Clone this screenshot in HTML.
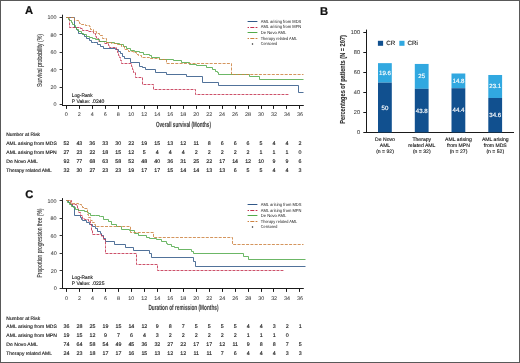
<!DOCTYPE html>
<html><head><meta charset="utf-8"><title>Figure</title><style>html,body{margin:0;padding:0;background:#fff;width:520px;height:363px;overflow:hidden;font-family:"Liberation Sans",sans-serif}</style></head><body>
<svg width="520" height="363" viewBox="0 0 520 363" style="display:block;will-change:transform" font-family="&quot;Liberation Sans&quot;, sans-serif">
<rect x="0" y="0" width="520" height="363" fill="#ffffff"/>
<line x1="62.5" y1="14.7" x2="62.5" y2="106.0" stroke="#1a1a1a" stroke-width="1"/>
<line x1="62" y1="105.5" x2="303.8" y2="105.5" stroke="#1a1a1a" stroke-width="1"/>
<line x1="59.6" y1="17.5" x2="62.5" y2="17.5" stroke="#333" stroke-width="1"/>
<line x1="59.6" y1="34.5" x2="62.5" y2="34.5" stroke="#333" stroke-width="1"/>
<line x1="59.6" y1="52.5" x2="62.5" y2="52.5" stroke="#333" stroke-width="1"/>
<line x1="59.6" y1="69.5" x2="62.5" y2="69.5" stroke="#333" stroke-width="1"/>
<line x1="59.6" y1="87.5" x2="62.5" y2="87.5" stroke="#333" stroke-width="1"/>
<line x1="59.6" y1="104.5" x2="62.5" y2="104.5" stroke="#333" stroke-width="1"/>
<line x1="66.5" y1="105.5" x2="66.5" y2="108.90" stroke="#1a1a1a" stroke-width="1"/>
<line x1="79.5" y1="105.5" x2="79.5" y2="108.90" stroke="#1a1a1a" stroke-width="1"/>
<line x1="92.5" y1="105.5" x2="92.5" y2="108.90" stroke="#1a1a1a" stroke-width="1"/>
<line x1="105.5" y1="105.5" x2="105.5" y2="108.90" stroke="#1a1a1a" stroke-width="1"/>
<line x1="118.5" y1="105.5" x2="118.5" y2="108.90" stroke="#1a1a1a" stroke-width="1"/>
<line x1="131.5" y1="105.5" x2="131.5" y2="108.90" stroke="#1a1a1a" stroke-width="1"/>
<line x1="144.5" y1="105.5" x2="144.5" y2="108.90" stroke="#1a1a1a" stroke-width="1"/>
<line x1="157.5" y1="105.5" x2="157.5" y2="108.90" stroke="#1a1a1a" stroke-width="1"/>
<line x1="170.5" y1="105.5" x2="170.5" y2="108.90" stroke="#1a1a1a" stroke-width="1"/>
<line x1="183.5" y1="105.5" x2="183.5" y2="108.90" stroke="#1a1a1a" stroke-width="1"/>
<line x1="196.5" y1="105.5" x2="196.5" y2="108.90" stroke="#1a1a1a" stroke-width="1"/>
<line x1="209.5" y1="105.5" x2="209.5" y2="108.90" stroke="#1a1a1a" stroke-width="1"/>
<line x1="222.5" y1="105.5" x2="222.5" y2="108.90" stroke="#1a1a1a" stroke-width="1"/>
<line x1="235.5" y1="105.5" x2="235.5" y2="108.90" stroke="#1a1a1a" stroke-width="1"/>
<line x1="248.5" y1="105.5" x2="248.5" y2="108.90" stroke="#1a1a1a" stroke-width="1"/>
<line x1="261.5" y1="105.5" x2="261.5" y2="108.90" stroke="#1a1a1a" stroke-width="1"/>
<line x1="273.5" y1="105.5" x2="273.5" y2="108.90" stroke="#1a1a1a" stroke-width="1"/>
<line x1="286.5" y1="105.5" x2="286.5" y2="108.90" stroke="#1a1a1a" stroke-width="1"/>
<line x1="299.5" y1="105.5" x2="299.5" y2="108.90" stroke="#1a1a1a" stroke-width="1"/>
<line x1="247.6" y1="21.5" x2="257.4" y2="21.5" stroke="#315888" stroke-width="1"/>
<line x1="247.6" y1="27.5" x2="257.4" y2="27.5" stroke="#c4324f" stroke-width="1" stroke-dasharray="4,1.3" stroke-dashoffset="2.6"/>
<line x1="247.6" y1="32.5" x2="257.4" y2="32.5" stroke="#52aa4a" stroke-width="1"/>
<line x1="247.6" y1="38.5" x2="257.4" y2="38.5" stroke="#cc8240" stroke-width="1" stroke-dasharray="4,1.3" stroke-dashoffset="2.6"/>
<circle cx="252.5" cy="44.1" r="0.75" fill="#222"/>
<path d="M66.5,17.5 H74.5 V27.5 H76.5 V29.5 H77.5 V30.5 H78.5 V33.5 H82.5 V34.5 H84.5 V36.5 H86.5 V38.5 H89.5 V40.5 H91.5 V42.5 H93.5 V42.5 H97.5 V44.5 H100.5 V46.5 H103.5 V48.5 H115.5 V49.5 H118.5 V51.5 H120.5 V53.5 H122.5 V56.5 H124.5 V58.5 H130.5 V62.5 H139.5 V66.5 H142.5 V67.5 H145.5 V69.5 H155.5 V72.5 H166.5 V74.5 H186.5 V76.5 H202.5 V82.5 H218.5 V85.5 H298.5 V92.5 H303.5" fill="none" stroke="#315888" stroke-width="0.85" stroke-linejoin="miter"/>
<path d="M66.5,17.5 H69.5 V27.5 H80.5 V28.5 H82.5 V30.5 H88.5 V31.5 H91.5 V31.5 H93.5 V33.5 H95.5 V36.5 H96.5 V38.5 H98.5 V41.5 H104.5 V43.5 H108.5 V45.5 H109.5 V47.5 H116.5 V49.5 H117.5 V52.5 H118.5 V55.5 H119.5 V57.5 H120.5 V60.5 H121.5 V63.5 H131.5 V66.5 H132.5 V69.5 H133.5 V72.5 H135.5 V77.5 H142.5 V84.5 H153.5 V89.5 H195.5 V94.5 H289.5" fill="none" stroke="#c4324f" stroke-width="0.85" stroke-dasharray="2.9,1.1" stroke-linejoin="miter"/>
<path d="M66.5,17.5 H68.5 V19.5 H69.5 V20.5 H71.5 V22.5 H72.5 V24.5 H74.5 V25.5 H75.5 V27.5 H76.5 V29.5 H78.5 V31.5 H81.5 V33.5 H83.5 V34.5 H86.5 V36.5 H89.5 V37.5 H92.5 V38.5 H95.5 V39.5 H99.5 V41.5 H106.5 V42.5 H110.5 V42.5 H114.5 V43.5 H119.5 V44.5 H123.5 V46.5 H126.5 V48.5 H130.5 V50.5 H134.5 V51.5 H139.5 V52.5 H143.5 V54.5 H145.5 V54.5 H149.5 V55.5 H151.5 V57.5 H159.5 V59.5 H173.5 V60.5 H181.5 V62.5 H189.5 V64.5 H196.5 V65.5 H206.5 V67.5 H212.5 V69.5 H215.5 V71.5 H217.5 V72.5 H218.5 V74.5 H249.5 V76.5 H259.5 V79.5 H303.5" fill="none" stroke="#52aa4a" stroke-width="0.85" stroke-linejoin="miter"/>
<path d="M66.5,17.5 H74.5 V20.5 H78.5 V21.5 H79.5 V23.5 H81.5 V24.5 H85.5 V25.5 H89.5 V26.5 H90.5 V29.5 H93.5 V31.5 H96.5 V33.5 H99.5 V35.5 H102.5 V38.5 H106.5 V42.5 H111.5 V43.5 H117.5 V44.5 H121.5 V46.5 H124.5 V49.5 H128.5 V51.5 H133.5 V52.5 H136.5 V54.5 H138.5 V55.5 H141.5 V57.5 H149.5 V58.5 H159.5 V59.5 H166.5 V63.5 H231.5 V74.5 H303.5" fill="none" stroke="#cc8240" stroke-width="0.85" stroke-dasharray="3,1.3" stroke-linejoin="miter"/>
<line x1="62.5" y1="198.1" x2="62.5" y2="289.0" stroke="#1a1a1a" stroke-width="1"/>
<line x1="62" y1="288.5" x2="303.8" y2="288.5" stroke="#1a1a1a" stroke-width="1"/>
<line x1="59.6" y1="200.5" x2="62.5" y2="200.5" stroke="#333" stroke-width="1"/>
<line x1="59.6" y1="218.5" x2="62.5" y2="218.5" stroke="#333" stroke-width="1"/>
<line x1="59.6" y1="235.5" x2="62.5" y2="235.5" stroke="#333" stroke-width="1"/>
<line x1="59.6" y1="253.5" x2="62.5" y2="253.5" stroke="#333" stroke-width="1"/>
<line x1="59.6" y1="270.5" x2="62.5" y2="270.5" stroke="#333" stroke-width="1"/>
<line x1="59.6" y1="288.5" x2="62.5" y2="288.5" stroke="#333" stroke-width="1"/>
<line x1="66.5" y1="288.5" x2="66.5" y2="291.90" stroke="#1a1a1a" stroke-width="1"/>
<line x1="79.5" y1="288.5" x2="79.5" y2="291.90" stroke="#1a1a1a" stroke-width="1"/>
<line x1="92.5" y1="288.5" x2="92.5" y2="291.90" stroke="#1a1a1a" stroke-width="1"/>
<line x1="105.5" y1="288.5" x2="105.5" y2="291.90" stroke="#1a1a1a" stroke-width="1"/>
<line x1="118.5" y1="288.5" x2="118.5" y2="291.90" stroke="#1a1a1a" stroke-width="1"/>
<line x1="131.5" y1="288.5" x2="131.5" y2="291.90" stroke="#1a1a1a" stroke-width="1"/>
<line x1="144.5" y1="288.5" x2="144.5" y2="291.90" stroke="#1a1a1a" stroke-width="1"/>
<line x1="157.5" y1="288.5" x2="157.5" y2="291.90" stroke="#1a1a1a" stroke-width="1"/>
<line x1="170.5" y1="288.5" x2="170.5" y2="291.90" stroke="#1a1a1a" stroke-width="1"/>
<line x1="183.5" y1="288.5" x2="183.5" y2="291.90" stroke="#1a1a1a" stroke-width="1"/>
<line x1="196.5" y1="288.5" x2="196.5" y2="291.90" stroke="#1a1a1a" stroke-width="1"/>
<line x1="209.5" y1="288.5" x2="209.5" y2="291.90" stroke="#1a1a1a" stroke-width="1"/>
<line x1="222.5" y1="288.5" x2="222.5" y2="291.90" stroke="#1a1a1a" stroke-width="1"/>
<line x1="235.5" y1="288.5" x2="235.5" y2="291.90" stroke="#1a1a1a" stroke-width="1"/>
<line x1="248.5" y1="288.5" x2="248.5" y2="291.90" stroke="#1a1a1a" stroke-width="1"/>
<line x1="261.5" y1="288.5" x2="261.5" y2="291.90" stroke="#1a1a1a" stroke-width="1"/>
<line x1="273.5" y1="288.5" x2="273.5" y2="291.90" stroke="#1a1a1a" stroke-width="1"/>
<line x1="286.5" y1="288.5" x2="286.5" y2="291.90" stroke="#1a1a1a" stroke-width="1"/>
<line x1="299.5" y1="288.5" x2="299.5" y2="291.90" stroke="#1a1a1a" stroke-width="1"/>
<line x1="247.6" y1="204.5" x2="257.4" y2="204.5" stroke="#315888" stroke-width="1"/>
<line x1="247.6" y1="210.5" x2="257.4" y2="210.5" stroke="#c4324f" stroke-width="1" stroke-dasharray="4,1.3" stroke-dashoffset="2.6"/>
<line x1="247.6" y1="215.5" x2="257.4" y2="215.5" stroke="#52aa4a" stroke-width="1"/>
<line x1="247.6" y1="221.5" x2="257.4" y2="221.5" stroke="#cc8240" stroke-width="1" stroke-dasharray="4,1.3" stroke-dashoffset="2.6"/>
<circle cx="252.5" cy="226.9" r="0.75" fill="#222"/>
<path d="M66.5,200.5 H68.5 V202.5 H70.5 V204.5 H72.5 V206.5 H74.5 V207.5 H74.5 V215.5 H80.5 V217.5 H81.5 V219.5 H82.5 V220.5 H86.5 V222.5 H89.5 V224.5 H92.5 V226.5 H95.5 V228.5 H97.5 V231.5 H100.5 V233.5 H101.5 V235.5 H103.5 V238.5 H105.5 V241.5 H114.5 V244.5 H125.5 V247.5 H133.5 V250.5 H149.5 V253.5 H151.5 V257.5 H193.5 V261.5 H195.5 V266.5 H305.5" fill="none" stroke="#315888" stroke-width="0.85" stroke-linejoin="miter"/>
<path d="M66.5,200.5 H71.5 V204.5 H76.5 V205.5 H77.5 V208.5 H78.5 V212.5 H80.5 V215.5 H82.5 V218.5 H84.5 V219.5 H88.5 V221.5 H90.5 V224.5 H91.5 V226.5 H91.5 V230.5 H92.5 V234.5 H101.5 V236.5 H103.5 V239.5 H105.5 V246.5 H105.5 V253.5 H136.5 V264.5 H157.5 V270.5 H283.5" fill="none" stroke="#c4324f" stroke-width="0.85" stroke-dasharray="2.9,1.1" stroke-linejoin="miter"/>
<path d="M66.5,200.5 H67.5 V202.5 H69.5 V204.5 H71.5 V206.5 H73.5 V207.5 H75.5 V209.5 H78.5 V210.5 H84.5 V211.5 H87.5 V212.5 H88.5 V213.5 H90.5 V215.5 H95.5 V215.5 H99.5 V216.5 H100.5 V216.5 H103.5 V219.5 H108.5 V221.5 H111.5 V224.5 H116.5 V226.5 H121.5 V229.5 H129.5 V230.5 H134.5 V233.5 H138.5 V235.5 H146.5 V237.5 H149.5 V238.5 H156.5 V239.5 H161.5 V241.5 H166.5 V243.5 H167.5 V244.5 H171.5 V246.5 H174.5 V247.5 H178.5 V249.5 H191.5 V251.5 H193.5 V253.5 H243.5 V256.5 H248.5 V259.5 H305.5" fill="none" stroke="#52aa4a" stroke-width="0.85" stroke-linejoin="miter"/>
<path d="M66.5,200.5 H70.5 V203.5 H78.5 V204.5 H81.5 V205.5 H82.5 V207.5 H84.5 V208.5 H87.5 V214.5 H88.5 V217.5 H90.5 V220.5 H92.5 V222.5 H94.5 V224.5 H95.5 V226.5 H130.5 V232.5 H153.5 V237.5 H232.5 V244.5 H303.5" fill="none" stroke="#cc8240" stroke-width="0.85" stroke-dasharray="3,1.3" stroke-linejoin="miter"/>
<line x1="366.5" y1="29.6" x2="366.5" y2="133" stroke="#1a1a1a" stroke-width="1"/>
<line x1="366" y1="132.5" x2="514" y2="132.5" stroke="#1a1a1a" stroke-width="1"/>
<line x1="363.3" y1="32.5" x2="366.5" y2="32.5" stroke="#1a1a1a" stroke-width="1"/>
<line x1="363.3" y1="52.5" x2="366.5" y2="52.5" stroke="#1a1a1a" stroke-width="1"/>
<line x1="363.3" y1="72.5" x2="366.5" y2="72.5" stroke="#1a1a1a" stroke-width="1"/>
<line x1="363.3" y1="92.5" x2="366.5" y2="92.5" stroke="#1a1a1a" stroke-width="1"/>
<line x1="363.3" y1="112.5" x2="366.5" y2="112.5" stroke="#1a1a1a" stroke-width="1"/>
<line x1="363.3" y1="132.5" x2="366.5" y2="132.5" stroke="#1a1a1a" stroke-width="1"/>
<rect x="378.0" y="63.15" width="13.8" height="19.50" fill="#31a8e0"/>
<rect x="378.0" y="82.65" width="13.8" height="49.75" fill="#11508f"/>
<rect x="414.8" y="63.94" width="13.8" height="24.88" fill="#31a8e0"/>
<rect x="414.8" y="88.82" width="13.8" height="43.58" fill="#11508f"/>
<rect x="451.5" y="73.50" width="13.8" height="14.73" fill="#31a8e0"/>
<rect x="451.5" y="88.22" width="13.8" height="44.18" fill="#11508f"/>
<rect x="488.3" y="74.99" width="13.8" height="22.98" fill="#31a8e0"/>
<rect x="488.3" y="97.97" width="13.8" height="34.43" fill="#11508f"/>
<rect x="377.9" y="40.8" width="5.2" height="5" fill="#11508f"/>
<rect x="399.3" y="40.8" width="5.2" height="5" fill="#31a8e0"/>
<g transform="skewX(0.03)">
<text x="25.10" y="14.50" font-size="11.2" text-anchor="start" fill="#111" font-weight="bold" stroke="#111" stroke-width="0.22" stroke-linejoin="round">A</text>
<text x="56.50" y="19.50" font-size="5.4" text-anchor="end" fill="#3c3c3c" font-weight="normal" stroke="#3c3c3c" stroke-width="0.06">100</text>
<text x="56.50" y="36.90" font-size="5.4" text-anchor="end" fill="#3c3c3c" font-weight="normal" stroke="#3c3c3c" stroke-width="0.06">80</text>
<text x="56.50" y="54.30" font-size="5.4" text-anchor="end" fill="#3c3c3c" font-weight="normal" stroke="#3c3c3c" stroke-width="0.06">60</text>
<text x="56.50" y="71.70" font-size="5.4" text-anchor="end" fill="#3c3c3c" font-weight="normal" stroke="#3c3c3c" stroke-width="0.06">40</text>
<text x="56.50" y="89.10" font-size="5.4" text-anchor="end" fill="#3c3c3c" font-weight="normal" stroke="#3c3c3c" stroke-width="0.06">20</text>
<text x="56.50" y="106.50" font-size="5.4" text-anchor="end" fill="#3c3c3c" font-weight="normal" stroke="#3c3c3c" stroke-width="0.06">0</text>
<text x="66.30" y="116.50" font-size="5.4" text-anchor="middle" fill="#3c3c3c" font-weight="normal" stroke="#3c3c3c" stroke-width="0.06">0</text>
<text x="79.28" y="116.50" font-size="5.4" text-anchor="middle" fill="#3c3c3c" font-weight="normal" stroke="#3c3c3c" stroke-width="0.06">2</text>
<text x="92.26" y="116.50" font-size="5.4" text-anchor="middle" fill="#3c3c3c" font-weight="normal" stroke="#3c3c3c" stroke-width="0.06">4</text>
<text x="105.24" y="116.50" font-size="5.4" text-anchor="middle" fill="#3c3c3c" font-weight="normal" stroke="#3c3c3c" stroke-width="0.06">6</text>
<text x="118.22" y="116.50" font-size="5.4" text-anchor="middle" fill="#3c3c3c" font-weight="normal" stroke="#3c3c3c" stroke-width="0.06">8</text>
<text x="131.20" y="116.50" font-size="5.4" text-anchor="middle" fill="#3c3c3c" font-weight="normal" stroke="#3c3c3c" stroke-width="0.06">10</text>
<text x="144.18" y="116.50" font-size="5.4" text-anchor="middle" fill="#3c3c3c" font-weight="normal" stroke="#3c3c3c" stroke-width="0.06">12</text>
<text x="157.16" y="116.50" font-size="5.4" text-anchor="middle" fill="#3c3c3c" font-weight="normal" stroke="#3c3c3c" stroke-width="0.06">14</text>
<text x="170.14" y="116.50" font-size="5.4" text-anchor="middle" fill="#3c3c3c" font-weight="normal" stroke="#3c3c3c" stroke-width="0.06">16</text>
<text x="183.12" y="116.50" font-size="5.4" text-anchor="middle" fill="#3c3c3c" font-weight="normal" stroke="#3c3c3c" stroke-width="0.06">18</text>
<text x="196.10" y="116.50" font-size="5.4" text-anchor="middle" fill="#3c3c3c" font-weight="normal" stroke="#3c3c3c" stroke-width="0.06">20</text>
<text x="209.08" y="116.50" font-size="5.4" text-anchor="middle" fill="#3c3c3c" font-weight="normal" stroke="#3c3c3c" stroke-width="0.06">22</text>
<text x="222.06" y="116.50" font-size="5.4" text-anchor="middle" fill="#3c3c3c" font-weight="normal" stroke="#3c3c3c" stroke-width="0.06">24</text>
<text x="235.04" y="116.50" font-size="5.4" text-anchor="middle" fill="#3c3c3c" font-weight="normal" stroke="#3c3c3c" stroke-width="0.06">26</text>
<text x="248.02" y="116.50" font-size="5.4" text-anchor="middle" fill="#3c3c3c" font-weight="normal" stroke="#3c3c3c" stroke-width="0.06">28</text>
<text x="261.00" y="116.50" font-size="5.4" text-anchor="middle" fill="#3c3c3c" font-weight="normal" stroke="#3c3c3c" stroke-width="0.06">30</text>
<text x="273.98" y="116.50" font-size="5.4" text-anchor="middle" fill="#3c3c3c" font-weight="normal" stroke="#3c3c3c" stroke-width="0.06">32</text>
<text x="286.96" y="116.50" font-size="5.4" text-anchor="middle" fill="#3c3c3c" font-weight="normal" stroke="#3c3c3c" stroke-width="0.06">34</text>
<text x="299.94" y="116.50" font-size="5.4" text-anchor="middle" fill="#3c3c3c" font-weight="normal" stroke="#3c3c3c" stroke-width="0.06">36</text>
<text transform="translate(42.0,60.4) rotate(-90)" x="0" y="0" font-size="7.6" font-weight="normal" text-anchor="middle" fill="#404040" stroke="#404040" stroke-width="0.15" textLength="53" lengthAdjust="spacingAndGlyphs">Survival probability (%)</text>
<text x="155.90" y="126.70" font-size="7.6" text-anchor="start" fill="#404040" font-weight="bold" textLength="55" lengthAdjust="spacingAndGlyphs" stroke="#404040" stroke-width="0.1">Overall survival (Months)</text>
<text x="71.70" y="97.10" font-size="5.2" text-anchor="start" fill="#1a1a1a" font-weight="normal" textLength="21" lengthAdjust="spacingAndGlyphs" stroke="#1a1a1a" stroke-width="0.14" stroke-linejoin="round">Log-Rank</text>
<text x="71.70" y="103.00" font-size="5.2" text-anchor="start" fill="#1a1a1a" font-weight="normal" textLength="32.6" lengthAdjust="spacingAndGlyphs" stroke="#1a1a1a" stroke-width="0.14" stroke-linejoin="round">P Value: .0240</text>
<text x="260.70" y="22.70" font-size="4.4" text-anchor="start" fill="#1a1a1a" font-weight="normal" textLength="40.6" lengthAdjust="spacingAndGlyphs" stroke="none">AML arising from MDS</text>
<text x="260.70" y="28.50" font-size="4.4" text-anchor="start" fill="#1a1a1a" font-weight="normal" textLength="40.6" lengthAdjust="spacingAndGlyphs" stroke="none">AML arising from MPN</text>
<text x="260.70" y="33.90" font-size="4.4" text-anchor="start" fill="#1a1a1a" font-weight="normal" textLength="25.5" lengthAdjust="spacingAndGlyphs" stroke="none">De Novo AML</text>
<text x="260.70" y="39.60" font-size="4.4" text-anchor="start" fill="#1a1a1a" font-weight="normal" textLength="36.5" lengthAdjust="spacingAndGlyphs" stroke="none">Therapy related AML</text>
<text x="260.70" y="45.50" font-size="4.4" text-anchor="start" fill="#1a1a1a" font-weight="normal" textLength="16.5" lengthAdjust="spacingAndGlyphs" stroke="none">Censored</text>
<text x="6.20" y="136.10" font-size="4.9" text-anchor="start" fill="#1a1a1a" font-weight="normal" textLength="33.8" lengthAdjust="spacingAndGlyphs" stroke="#1a1a1a" stroke-width="0.14" stroke-linejoin="round">Number at Risk</text>
<text x="6.20" y="145.50" font-size="4.9" text-anchor="start" fill="#1a1a1a" font-weight="normal" textLength="50.5" lengthAdjust="spacingAndGlyphs" stroke="#1a1a1a" stroke-width="0.14" stroke-linejoin="round">AML arising from MDS</text>
<text x="66.30" y="145.50" font-size="5.3" text-anchor="middle" fill="#1a1a1a" font-weight="normal" stroke="#1a1a1a" stroke-width="0.14" stroke-linejoin="round">52</text>
<text x="79.28" y="145.50" font-size="5.3" text-anchor="middle" fill="#1a1a1a" font-weight="normal" stroke="#1a1a1a" stroke-width="0.14" stroke-linejoin="round">43</text>
<text x="92.26" y="145.50" font-size="5.3" text-anchor="middle" fill="#1a1a1a" font-weight="normal" stroke="#1a1a1a" stroke-width="0.14" stroke-linejoin="round">36</text>
<text x="105.24" y="145.50" font-size="5.3" text-anchor="middle" fill="#1a1a1a" font-weight="normal" stroke="#1a1a1a" stroke-width="0.14" stroke-linejoin="round">33</text>
<text x="118.22" y="145.50" font-size="5.3" text-anchor="middle" fill="#1a1a1a" font-weight="normal" stroke="#1a1a1a" stroke-width="0.14" stroke-linejoin="round">30</text>
<text x="131.20" y="145.50" font-size="5.3" text-anchor="middle" fill="#1a1a1a" font-weight="normal" stroke="#1a1a1a" stroke-width="0.14" stroke-linejoin="round">22</text>
<text x="144.18" y="145.50" font-size="5.3" text-anchor="middle" fill="#1a1a1a" font-weight="normal" stroke="#1a1a1a" stroke-width="0.14" stroke-linejoin="round">19</text>
<text x="157.16" y="145.50" font-size="5.3" text-anchor="middle" fill="#1a1a1a" font-weight="normal" stroke="#1a1a1a" stroke-width="0.14" stroke-linejoin="round">15</text>
<text x="170.14" y="145.50" font-size="5.3" text-anchor="middle" fill="#1a1a1a" font-weight="normal" stroke="#1a1a1a" stroke-width="0.14" stroke-linejoin="round">13</text>
<text x="183.12" y="145.50" font-size="5.3" text-anchor="middle" fill="#1a1a1a" font-weight="normal" stroke="#1a1a1a" stroke-width="0.14" stroke-linejoin="round">12</text>
<text x="196.10" y="145.50" font-size="5.3" text-anchor="middle" fill="#1a1a1a" font-weight="normal" stroke="#1a1a1a" stroke-width="0.14" stroke-linejoin="round">11</text>
<text x="209.08" y="145.50" font-size="5.3" text-anchor="middle" fill="#1a1a1a" font-weight="normal" stroke="#1a1a1a" stroke-width="0.14" stroke-linejoin="round">8</text>
<text x="222.06" y="145.50" font-size="5.3" text-anchor="middle" fill="#1a1a1a" font-weight="normal" stroke="#1a1a1a" stroke-width="0.14" stroke-linejoin="round">6</text>
<text x="235.04" y="145.50" font-size="5.3" text-anchor="middle" fill="#1a1a1a" font-weight="normal" stroke="#1a1a1a" stroke-width="0.14" stroke-linejoin="round">6</text>
<text x="248.02" y="145.50" font-size="5.3" text-anchor="middle" fill="#1a1a1a" font-weight="normal" stroke="#1a1a1a" stroke-width="0.14" stroke-linejoin="round">6</text>
<text x="261.00" y="145.50" font-size="5.3" text-anchor="middle" fill="#1a1a1a" font-weight="normal" stroke="#1a1a1a" stroke-width="0.14" stroke-linejoin="round">5</text>
<text x="273.98" y="145.50" font-size="5.3" text-anchor="middle" fill="#1a1a1a" font-weight="normal" stroke="#1a1a1a" stroke-width="0.14" stroke-linejoin="round">4</text>
<text x="286.96" y="145.50" font-size="5.3" text-anchor="middle" fill="#1a1a1a" font-weight="normal" stroke="#1a1a1a" stroke-width="0.14" stroke-linejoin="round">4</text>
<text x="299.94" y="145.50" font-size="5.3" text-anchor="middle" fill="#1a1a1a" font-weight="normal" stroke="#1a1a1a" stroke-width="0.14" stroke-linejoin="round">2</text>
<text x="6.20" y="154.40" font-size="4.9" text-anchor="start" fill="#1a1a1a" font-weight="normal" textLength="50.5" lengthAdjust="spacingAndGlyphs" stroke="#1a1a1a" stroke-width="0.14" stroke-linejoin="round">AML arising from MPN</text>
<text x="66.30" y="154.40" font-size="5.3" text-anchor="middle" fill="#1a1a1a" font-weight="normal" stroke="#1a1a1a" stroke-width="0.14" stroke-linejoin="round">27</text>
<text x="79.28" y="154.40" font-size="5.3" text-anchor="middle" fill="#1a1a1a" font-weight="normal" stroke="#1a1a1a" stroke-width="0.14" stroke-linejoin="round">23</text>
<text x="92.26" y="154.40" font-size="5.3" text-anchor="middle" fill="#1a1a1a" font-weight="normal" stroke="#1a1a1a" stroke-width="0.14" stroke-linejoin="round">22</text>
<text x="105.24" y="154.40" font-size="5.3" text-anchor="middle" fill="#1a1a1a" font-weight="normal" stroke="#1a1a1a" stroke-width="0.14" stroke-linejoin="round">18</text>
<text x="118.22" y="154.40" font-size="5.3" text-anchor="middle" fill="#1a1a1a" font-weight="normal" stroke="#1a1a1a" stroke-width="0.14" stroke-linejoin="round">15</text>
<text x="131.20" y="154.40" font-size="5.3" text-anchor="middle" fill="#1a1a1a" font-weight="normal" stroke="#1a1a1a" stroke-width="0.14" stroke-linejoin="round">12</text>
<text x="144.18" y="154.40" font-size="5.3" text-anchor="middle" fill="#1a1a1a" font-weight="normal" stroke="#1a1a1a" stroke-width="0.14" stroke-linejoin="round">5</text>
<text x="157.16" y="154.40" font-size="5.3" text-anchor="middle" fill="#1a1a1a" font-weight="normal" stroke="#1a1a1a" stroke-width="0.14" stroke-linejoin="round">4</text>
<text x="170.14" y="154.40" font-size="5.3" text-anchor="middle" fill="#1a1a1a" font-weight="normal" stroke="#1a1a1a" stroke-width="0.14" stroke-linejoin="round">4</text>
<text x="183.12" y="154.40" font-size="5.3" text-anchor="middle" fill="#1a1a1a" font-weight="normal" stroke="#1a1a1a" stroke-width="0.14" stroke-linejoin="round">4</text>
<text x="196.10" y="154.40" font-size="5.3" text-anchor="middle" fill="#1a1a1a" font-weight="normal" stroke="#1a1a1a" stroke-width="0.14" stroke-linejoin="round">2</text>
<text x="209.08" y="154.40" font-size="5.3" text-anchor="middle" fill="#1a1a1a" font-weight="normal" stroke="#1a1a1a" stroke-width="0.14" stroke-linejoin="round">2</text>
<text x="222.06" y="154.40" font-size="5.3" text-anchor="middle" fill="#1a1a1a" font-weight="normal" stroke="#1a1a1a" stroke-width="0.14" stroke-linejoin="round">2</text>
<text x="235.04" y="154.40" font-size="5.3" text-anchor="middle" fill="#1a1a1a" font-weight="normal" stroke="#1a1a1a" stroke-width="0.14" stroke-linejoin="round">2</text>
<text x="248.02" y="154.40" font-size="5.3" text-anchor="middle" fill="#1a1a1a" font-weight="normal" stroke="#1a1a1a" stroke-width="0.14" stroke-linejoin="round">2</text>
<text x="261.00" y="154.40" font-size="5.3" text-anchor="middle" fill="#1a1a1a" font-weight="normal" stroke="#1a1a1a" stroke-width="0.14" stroke-linejoin="round">1</text>
<text x="273.98" y="154.40" font-size="5.3" text-anchor="middle" fill="#1a1a1a" font-weight="normal" stroke="#1a1a1a" stroke-width="0.14" stroke-linejoin="round">1</text>
<text x="286.96" y="154.40" font-size="5.3" text-anchor="middle" fill="#1a1a1a" font-weight="normal" stroke="#1a1a1a" stroke-width="0.14" stroke-linejoin="round">1</text>
<text x="299.94" y="154.40" font-size="5.3" text-anchor="middle" fill="#1a1a1a" font-weight="normal" stroke="#1a1a1a" stroke-width="0.14" stroke-linejoin="round">0</text>
<text x="6.20" y="163.40" font-size="4.9" text-anchor="start" fill="#1a1a1a" font-weight="normal" textLength="31.5" lengthAdjust="spacingAndGlyphs" stroke="#1a1a1a" stroke-width="0.14" stroke-linejoin="round">De Novo AML</text>
<text x="66.30" y="163.40" font-size="5.3" text-anchor="middle" fill="#1a1a1a" font-weight="normal" stroke="#1a1a1a" stroke-width="0.14" stroke-linejoin="round">92</text>
<text x="79.28" y="163.40" font-size="5.3" text-anchor="middle" fill="#1a1a1a" font-weight="normal" stroke="#1a1a1a" stroke-width="0.14" stroke-linejoin="round">77</text>
<text x="92.26" y="163.40" font-size="5.3" text-anchor="middle" fill="#1a1a1a" font-weight="normal" stroke="#1a1a1a" stroke-width="0.14" stroke-linejoin="round">68</text>
<text x="105.24" y="163.40" font-size="5.3" text-anchor="middle" fill="#1a1a1a" font-weight="normal" stroke="#1a1a1a" stroke-width="0.14" stroke-linejoin="round">63</text>
<text x="118.22" y="163.40" font-size="5.3" text-anchor="middle" fill="#1a1a1a" font-weight="normal" stroke="#1a1a1a" stroke-width="0.14" stroke-linejoin="round">58</text>
<text x="131.20" y="163.40" font-size="5.3" text-anchor="middle" fill="#1a1a1a" font-weight="normal" stroke="#1a1a1a" stroke-width="0.14" stroke-linejoin="round">52</text>
<text x="144.18" y="163.40" font-size="5.3" text-anchor="middle" fill="#1a1a1a" font-weight="normal" stroke="#1a1a1a" stroke-width="0.14" stroke-linejoin="round">48</text>
<text x="157.16" y="163.40" font-size="5.3" text-anchor="middle" fill="#1a1a1a" font-weight="normal" stroke="#1a1a1a" stroke-width="0.14" stroke-linejoin="round">40</text>
<text x="170.14" y="163.40" font-size="5.3" text-anchor="middle" fill="#1a1a1a" font-weight="normal" stroke="#1a1a1a" stroke-width="0.14" stroke-linejoin="round">36</text>
<text x="183.12" y="163.40" font-size="5.3" text-anchor="middle" fill="#1a1a1a" font-weight="normal" stroke="#1a1a1a" stroke-width="0.14" stroke-linejoin="round">31</text>
<text x="196.10" y="163.40" font-size="5.3" text-anchor="middle" fill="#1a1a1a" font-weight="normal" stroke="#1a1a1a" stroke-width="0.14" stroke-linejoin="round">25</text>
<text x="209.08" y="163.40" font-size="5.3" text-anchor="middle" fill="#1a1a1a" font-weight="normal" stroke="#1a1a1a" stroke-width="0.14" stroke-linejoin="round">22</text>
<text x="222.06" y="163.40" font-size="5.3" text-anchor="middle" fill="#1a1a1a" font-weight="normal" stroke="#1a1a1a" stroke-width="0.14" stroke-linejoin="round">17</text>
<text x="235.04" y="163.40" font-size="5.3" text-anchor="middle" fill="#1a1a1a" font-weight="normal" stroke="#1a1a1a" stroke-width="0.14" stroke-linejoin="round">14</text>
<text x="248.02" y="163.40" font-size="5.3" text-anchor="middle" fill="#1a1a1a" font-weight="normal" stroke="#1a1a1a" stroke-width="0.14" stroke-linejoin="round">12</text>
<text x="261.00" y="163.40" font-size="5.3" text-anchor="middle" fill="#1a1a1a" font-weight="normal" stroke="#1a1a1a" stroke-width="0.14" stroke-linejoin="round">10</text>
<text x="273.98" y="163.40" font-size="5.3" text-anchor="middle" fill="#1a1a1a" font-weight="normal" stroke="#1a1a1a" stroke-width="0.14" stroke-linejoin="round">9</text>
<text x="286.96" y="163.40" font-size="5.3" text-anchor="middle" fill="#1a1a1a" font-weight="normal" stroke="#1a1a1a" stroke-width="0.14" stroke-linejoin="round">9</text>
<text x="299.94" y="163.40" font-size="5.3" text-anchor="middle" fill="#1a1a1a" font-weight="normal" stroke="#1a1a1a" stroke-width="0.14" stroke-linejoin="round">6</text>
<text x="6.20" y="172.30" font-size="4.9" text-anchor="start" fill="#1a1a1a" font-weight="normal" textLength="45.5" lengthAdjust="spacingAndGlyphs" stroke="#1a1a1a" stroke-width="0.14" stroke-linejoin="round">Therapy related AML</text>
<text x="66.30" y="172.30" font-size="5.3" text-anchor="middle" fill="#1a1a1a" font-weight="normal" stroke="#1a1a1a" stroke-width="0.14" stroke-linejoin="round">32</text>
<text x="79.28" y="172.30" font-size="5.3" text-anchor="middle" fill="#1a1a1a" font-weight="normal" stroke="#1a1a1a" stroke-width="0.14" stroke-linejoin="round">30</text>
<text x="92.26" y="172.30" font-size="5.3" text-anchor="middle" fill="#1a1a1a" font-weight="normal" stroke="#1a1a1a" stroke-width="0.14" stroke-linejoin="round">27</text>
<text x="105.24" y="172.30" font-size="5.3" text-anchor="middle" fill="#1a1a1a" font-weight="normal" stroke="#1a1a1a" stroke-width="0.14" stroke-linejoin="round">23</text>
<text x="118.22" y="172.30" font-size="5.3" text-anchor="middle" fill="#1a1a1a" font-weight="normal" stroke="#1a1a1a" stroke-width="0.14" stroke-linejoin="round">23</text>
<text x="131.20" y="172.30" font-size="5.3" text-anchor="middle" fill="#1a1a1a" font-weight="normal" stroke="#1a1a1a" stroke-width="0.14" stroke-linejoin="round">19</text>
<text x="144.18" y="172.30" font-size="5.3" text-anchor="middle" fill="#1a1a1a" font-weight="normal" stroke="#1a1a1a" stroke-width="0.14" stroke-linejoin="round">17</text>
<text x="157.16" y="172.30" font-size="5.3" text-anchor="middle" fill="#1a1a1a" font-weight="normal" stroke="#1a1a1a" stroke-width="0.14" stroke-linejoin="round">17</text>
<text x="170.14" y="172.30" font-size="5.3" text-anchor="middle" fill="#1a1a1a" font-weight="normal" stroke="#1a1a1a" stroke-width="0.14" stroke-linejoin="round">15</text>
<text x="183.12" y="172.30" font-size="5.3" text-anchor="middle" fill="#1a1a1a" font-weight="normal" stroke="#1a1a1a" stroke-width="0.14" stroke-linejoin="round">14</text>
<text x="196.10" y="172.30" font-size="5.3" text-anchor="middle" fill="#1a1a1a" font-weight="normal" stroke="#1a1a1a" stroke-width="0.14" stroke-linejoin="round">14</text>
<text x="209.08" y="172.30" font-size="5.3" text-anchor="middle" fill="#1a1a1a" font-weight="normal" stroke="#1a1a1a" stroke-width="0.14" stroke-linejoin="round">13</text>
<text x="222.06" y="172.30" font-size="5.3" text-anchor="middle" fill="#1a1a1a" font-weight="normal" stroke="#1a1a1a" stroke-width="0.14" stroke-linejoin="round">13</text>
<text x="235.04" y="172.30" font-size="5.3" text-anchor="middle" fill="#1a1a1a" font-weight="normal" stroke="#1a1a1a" stroke-width="0.14" stroke-linejoin="round">6</text>
<text x="248.02" y="172.30" font-size="5.3" text-anchor="middle" fill="#1a1a1a" font-weight="normal" stroke="#1a1a1a" stroke-width="0.14" stroke-linejoin="round">5</text>
<text x="261.00" y="172.30" font-size="5.3" text-anchor="middle" fill="#1a1a1a" font-weight="normal" stroke="#1a1a1a" stroke-width="0.14" stroke-linejoin="round">5</text>
<text x="273.98" y="172.30" font-size="5.3" text-anchor="middle" fill="#1a1a1a" font-weight="normal" stroke="#1a1a1a" stroke-width="0.14" stroke-linejoin="round">4</text>
<text x="286.96" y="172.30" font-size="5.3" text-anchor="middle" fill="#1a1a1a" font-weight="normal" stroke="#1a1a1a" stroke-width="0.14" stroke-linejoin="round">4</text>
<text x="299.94" y="172.30" font-size="5.3" text-anchor="middle" fill="#1a1a1a" font-weight="normal" stroke="#1a1a1a" stroke-width="0.14" stroke-linejoin="round">3</text>
<text x="25.10" y="197.60" font-size="11.2" text-anchor="start" fill="#111" font-weight="bold" stroke="#111" stroke-width="0.22" stroke-linejoin="round">C</text>
<text x="56.50" y="202.60" font-size="5.4" text-anchor="end" fill="#3c3c3c" font-weight="normal" stroke="#3c3c3c" stroke-width="0.06">100</text>
<text x="56.50" y="220.10" font-size="5.4" text-anchor="end" fill="#3c3c3c" font-weight="normal" stroke="#3c3c3c" stroke-width="0.06">80</text>
<text x="56.50" y="237.60" font-size="5.4" text-anchor="end" fill="#3c3c3c" font-weight="normal" stroke="#3c3c3c" stroke-width="0.06">60</text>
<text x="56.50" y="255.10" font-size="5.4" text-anchor="end" fill="#3c3c3c" font-weight="normal" stroke="#3c3c3c" stroke-width="0.06">40</text>
<text x="56.50" y="272.60" font-size="5.4" text-anchor="end" fill="#3c3c3c" font-weight="normal" stroke="#3c3c3c" stroke-width="0.06">20</text>
<text x="56.50" y="290.10" font-size="5.4" text-anchor="end" fill="#3c3c3c" font-weight="normal" stroke="#3c3c3c" stroke-width="0.06">0</text>
<text x="66.30" y="300.20" font-size="5.4" text-anchor="middle" fill="#3c3c3c" font-weight="normal" stroke="#3c3c3c" stroke-width="0.06">0</text>
<text x="79.28" y="300.20" font-size="5.4" text-anchor="middle" fill="#3c3c3c" font-weight="normal" stroke="#3c3c3c" stroke-width="0.06">2</text>
<text x="92.26" y="300.20" font-size="5.4" text-anchor="middle" fill="#3c3c3c" font-weight="normal" stroke="#3c3c3c" stroke-width="0.06">4</text>
<text x="105.24" y="300.20" font-size="5.4" text-anchor="middle" fill="#3c3c3c" font-weight="normal" stroke="#3c3c3c" stroke-width="0.06">6</text>
<text x="118.22" y="300.20" font-size="5.4" text-anchor="middle" fill="#3c3c3c" font-weight="normal" stroke="#3c3c3c" stroke-width="0.06">8</text>
<text x="131.20" y="300.20" font-size="5.4" text-anchor="middle" fill="#3c3c3c" font-weight="normal" stroke="#3c3c3c" stroke-width="0.06">10</text>
<text x="144.18" y="300.20" font-size="5.4" text-anchor="middle" fill="#3c3c3c" font-weight="normal" stroke="#3c3c3c" stroke-width="0.06">12</text>
<text x="157.16" y="300.20" font-size="5.4" text-anchor="middle" fill="#3c3c3c" font-weight="normal" stroke="#3c3c3c" stroke-width="0.06">14</text>
<text x="170.14" y="300.20" font-size="5.4" text-anchor="middle" fill="#3c3c3c" font-weight="normal" stroke="#3c3c3c" stroke-width="0.06">16</text>
<text x="183.12" y="300.20" font-size="5.4" text-anchor="middle" fill="#3c3c3c" font-weight="normal" stroke="#3c3c3c" stroke-width="0.06">18</text>
<text x="196.10" y="300.20" font-size="5.4" text-anchor="middle" fill="#3c3c3c" font-weight="normal" stroke="#3c3c3c" stroke-width="0.06">20</text>
<text x="209.08" y="300.20" font-size="5.4" text-anchor="middle" fill="#3c3c3c" font-weight="normal" stroke="#3c3c3c" stroke-width="0.06">22</text>
<text x="222.06" y="300.20" font-size="5.4" text-anchor="middle" fill="#3c3c3c" font-weight="normal" stroke="#3c3c3c" stroke-width="0.06">24</text>
<text x="235.04" y="300.20" font-size="5.4" text-anchor="middle" fill="#3c3c3c" font-weight="normal" stroke="#3c3c3c" stroke-width="0.06">26</text>
<text x="248.02" y="300.20" font-size="5.4" text-anchor="middle" fill="#3c3c3c" font-weight="normal" stroke="#3c3c3c" stroke-width="0.06">28</text>
<text x="261.00" y="300.20" font-size="5.4" text-anchor="middle" fill="#3c3c3c" font-weight="normal" stroke="#3c3c3c" stroke-width="0.06">30</text>
<text x="273.98" y="300.20" font-size="5.4" text-anchor="middle" fill="#3c3c3c" font-weight="normal" stroke="#3c3c3c" stroke-width="0.06">32</text>
<text x="286.96" y="300.20" font-size="5.4" text-anchor="middle" fill="#3c3c3c" font-weight="normal" stroke="#3c3c3c" stroke-width="0.06">34</text>
<text x="299.94" y="300.20" font-size="5.4" text-anchor="middle" fill="#3c3c3c" font-weight="normal" stroke="#3c3c3c" stroke-width="0.06">36</text>
<text transform="translate(42.0,243.0) rotate(-90)" x="0" y="0" font-size="7.6" font-weight="normal" text-anchor="middle" fill="#404040" stroke="#404040" stroke-width="0.15" textLength="69" lengthAdjust="spacingAndGlyphs">Proportion progression free (%)</text>
<text x="148.30" y="309.90" font-size="7.6" text-anchor="start" fill="#404040" font-weight="bold" textLength="70" lengthAdjust="spacingAndGlyphs" stroke="#404040" stroke-width="0.1">Duration of remission (Months)</text>
<text x="71.70" y="279.00" font-size="5.2" text-anchor="start" fill="#1a1a1a" font-weight="normal" textLength="21" lengthAdjust="spacingAndGlyphs" stroke="#1a1a1a" stroke-width="0.14" stroke-linejoin="round">Log-Rank</text>
<text x="71.70" y="284.90" font-size="5.2" text-anchor="start" fill="#1a1a1a" font-weight="normal" textLength="32.6" lengthAdjust="spacingAndGlyphs" stroke="#1a1a1a" stroke-width="0.14" stroke-linejoin="round">P Value: .0225</text>
<text x="260.70" y="205.90" font-size="4.4" text-anchor="start" fill="#1a1a1a" font-weight="normal" textLength="40.6" lengthAdjust="spacingAndGlyphs" stroke="none">AML arising from MDS</text>
<text x="260.70" y="211.80" font-size="4.4" text-anchor="start" fill="#1a1a1a" font-weight="normal" textLength="40.6" lengthAdjust="spacingAndGlyphs" stroke="none">AML arising from MPN</text>
<text x="260.70" y="217.20" font-size="4.4" text-anchor="start" fill="#1a1a1a" font-weight="normal" textLength="25.5" lengthAdjust="spacingAndGlyphs" stroke="none">De Novo AML</text>
<text x="260.70" y="223.00" font-size="4.4" text-anchor="start" fill="#1a1a1a" font-weight="normal" textLength="36.5" lengthAdjust="spacingAndGlyphs" stroke="none">Therapy related AML</text>
<text x="260.70" y="228.30" font-size="4.4" text-anchor="start" fill="#1a1a1a" font-weight="normal" textLength="16.5" lengthAdjust="spacingAndGlyphs" stroke="none">Censored</text>
<text x="6.20" y="319.70" font-size="4.9" text-anchor="start" fill="#1a1a1a" font-weight="normal" textLength="33.8" lengthAdjust="spacingAndGlyphs" stroke="#1a1a1a" stroke-width="0.14" stroke-linejoin="round">Number at Risk</text>
<text x="6.20" y="328.30" font-size="4.9" text-anchor="start" fill="#1a1a1a" font-weight="normal" textLength="50.5" lengthAdjust="spacingAndGlyphs" stroke="#1a1a1a" stroke-width="0.14" stroke-linejoin="round">AML arising from MDS</text>
<text x="66.30" y="328.30" font-size="5.3" text-anchor="middle" fill="#1a1a1a" font-weight="normal" stroke="#1a1a1a" stroke-width="0.14" stroke-linejoin="round">36</text>
<text x="79.28" y="328.30" font-size="5.3" text-anchor="middle" fill="#1a1a1a" font-weight="normal" stroke="#1a1a1a" stroke-width="0.14" stroke-linejoin="round">28</text>
<text x="92.26" y="328.30" font-size="5.3" text-anchor="middle" fill="#1a1a1a" font-weight="normal" stroke="#1a1a1a" stroke-width="0.14" stroke-linejoin="round">25</text>
<text x="105.24" y="328.30" font-size="5.3" text-anchor="middle" fill="#1a1a1a" font-weight="normal" stroke="#1a1a1a" stroke-width="0.14" stroke-linejoin="round">19</text>
<text x="118.22" y="328.30" font-size="5.3" text-anchor="middle" fill="#1a1a1a" font-weight="normal" stroke="#1a1a1a" stroke-width="0.14" stroke-linejoin="round">15</text>
<text x="131.20" y="328.30" font-size="5.3" text-anchor="middle" fill="#1a1a1a" font-weight="normal" stroke="#1a1a1a" stroke-width="0.14" stroke-linejoin="round">14</text>
<text x="144.18" y="328.30" font-size="5.3" text-anchor="middle" fill="#1a1a1a" font-weight="normal" stroke="#1a1a1a" stroke-width="0.14" stroke-linejoin="round">12</text>
<text x="157.16" y="328.30" font-size="5.3" text-anchor="middle" fill="#1a1a1a" font-weight="normal" stroke="#1a1a1a" stroke-width="0.14" stroke-linejoin="round">9</text>
<text x="170.14" y="328.30" font-size="5.3" text-anchor="middle" fill="#1a1a1a" font-weight="normal" stroke="#1a1a1a" stroke-width="0.14" stroke-linejoin="round">8</text>
<text x="183.12" y="328.30" font-size="5.3" text-anchor="middle" fill="#1a1a1a" font-weight="normal" stroke="#1a1a1a" stroke-width="0.14" stroke-linejoin="round">7</text>
<text x="196.10" y="328.30" font-size="5.3" text-anchor="middle" fill="#1a1a1a" font-weight="normal" stroke="#1a1a1a" stroke-width="0.14" stroke-linejoin="round">5</text>
<text x="209.08" y="328.30" font-size="5.3" text-anchor="middle" fill="#1a1a1a" font-weight="normal" stroke="#1a1a1a" stroke-width="0.14" stroke-linejoin="round">5</text>
<text x="222.06" y="328.30" font-size="5.3" text-anchor="middle" fill="#1a1a1a" font-weight="normal" stroke="#1a1a1a" stroke-width="0.14" stroke-linejoin="round">5</text>
<text x="235.04" y="328.30" font-size="5.3" text-anchor="middle" fill="#1a1a1a" font-weight="normal" stroke="#1a1a1a" stroke-width="0.14" stroke-linejoin="round">5</text>
<text x="248.02" y="328.30" font-size="5.3" text-anchor="middle" fill="#1a1a1a" font-weight="normal" stroke="#1a1a1a" stroke-width="0.14" stroke-linejoin="round">4</text>
<text x="261.00" y="328.30" font-size="5.3" text-anchor="middle" fill="#1a1a1a" font-weight="normal" stroke="#1a1a1a" stroke-width="0.14" stroke-linejoin="round">4</text>
<text x="273.98" y="328.30" font-size="5.3" text-anchor="middle" fill="#1a1a1a" font-weight="normal" stroke="#1a1a1a" stroke-width="0.14" stroke-linejoin="round">3</text>
<text x="286.96" y="328.30" font-size="5.3" text-anchor="middle" fill="#1a1a1a" font-weight="normal" stroke="#1a1a1a" stroke-width="0.14" stroke-linejoin="round">2</text>
<text x="299.94" y="328.30" font-size="5.3" text-anchor="middle" fill="#1a1a1a" font-weight="normal" stroke="#1a1a1a" stroke-width="0.14" stroke-linejoin="round">1</text>
<text x="6.20" y="337.30" font-size="4.9" text-anchor="start" fill="#1a1a1a" font-weight="normal" textLength="50.5" lengthAdjust="spacingAndGlyphs" stroke="#1a1a1a" stroke-width="0.14" stroke-linejoin="round">AML arising from MPN</text>
<text x="66.30" y="337.30" font-size="5.3" text-anchor="middle" fill="#1a1a1a" font-weight="normal" stroke="#1a1a1a" stroke-width="0.14" stroke-linejoin="round">19</text>
<text x="79.28" y="337.30" font-size="5.3" text-anchor="middle" fill="#1a1a1a" font-weight="normal" stroke="#1a1a1a" stroke-width="0.14" stroke-linejoin="round">15</text>
<text x="92.26" y="337.30" font-size="5.3" text-anchor="middle" fill="#1a1a1a" font-weight="normal" stroke="#1a1a1a" stroke-width="0.14" stroke-linejoin="round">12</text>
<text x="105.24" y="337.30" font-size="5.3" text-anchor="middle" fill="#1a1a1a" font-weight="normal" stroke="#1a1a1a" stroke-width="0.14" stroke-linejoin="round">9</text>
<text x="118.22" y="337.30" font-size="5.3" text-anchor="middle" fill="#1a1a1a" font-weight="normal" stroke="#1a1a1a" stroke-width="0.14" stroke-linejoin="round">7</text>
<text x="131.20" y="337.30" font-size="5.3" text-anchor="middle" fill="#1a1a1a" font-weight="normal" stroke="#1a1a1a" stroke-width="0.14" stroke-linejoin="round">6</text>
<text x="144.18" y="337.30" font-size="5.3" text-anchor="middle" fill="#1a1a1a" font-weight="normal" stroke="#1a1a1a" stroke-width="0.14" stroke-linejoin="round">4</text>
<text x="157.16" y="337.30" font-size="5.3" text-anchor="middle" fill="#1a1a1a" font-weight="normal" stroke="#1a1a1a" stroke-width="0.14" stroke-linejoin="round">3</text>
<text x="170.14" y="337.30" font-size="5.3" text-anchor="middle" fill="#1a1a1a" font-weight="normal" stroke="#1a1a1a" stroke-width="0.14" stroke-linejoin="round">2</text>
<text x="183.12" y="337.30" font-size="5.3" text-anchor="middle" fill="#1a1a1a" font-weight="normal" stroke="#1a1a1a" stroke-width="0.14" stroke-linejoin="round">2</text>
<text x="196.10" y="337.30" font-size="5.3" text-anchor="middle" fill="#1a1a1a" font-weight="normal" stroke="#1a1a1a" stroke-width="0.14" stroke-linejoin="round">2</text>
<text x="209.08" y="337.30" font-size="5.3" text-anchor="middle" fill="#1a1a1a" font-weight="normal" stroke="#1a1a1a" stroke-width="0.14" stroke-linejoin="round">2</text>
<text x="222.06" y="337.30" font-size="5.3" text-anchor="middle" fill="#1a1a1a" font-weight="normal" stroke="#1a1a1a" stroke-width="0.14" stroke-linejoin="round">2</text>
<text x="235.04" y="337.30" font-size="5.3" text-anchor="middle" fill="#1a1a1a" font-weight="normal" stroke="#1a1a1a" stroke-width="0.14" stroke-linejoin="round">2</text>
<text x="248.02" y="337.30" font-size="5.3" text-anchor="middle" fill="#1a1a1a" font-weight="normal" stroke="#1a1a1a" stroke-width="0.14" stroke-linejoin="round">1</text>
<text x="261.00" y="337.30" font-size="5.3" text-anchor="middle" fill="#1a1a1a" font-weight="normal" stroke="#1a1a1a" stroke-width="0.14" stroke-linejoin="round">1</text>
<text x="273.98" y="337.30" font-size="5.3" text-anchor="middle" fill="#1a1a1a" font-weight="normal" stroke="#1a1a1a" stroke-width="0.14" stroke-linejoin="round">1</text>
<text x="286.96" y="337.30" font-size="5.3" text-anchor="middle" fill="#1a1a1a" font-weight="normal" stroke="#1a1a1a" stroke-width="0.14" stroke-linejoin="round">0</text>
<text x="6.20" y="346.40" font-size="4.9" text-anchor="start" fill="#1a1a1a" font-weight="normal" textLength="31.5" lengthAdjust="spacingAndGlyphs" stroke="#1a1a1a" stroke-width="0.14" stroke-linejoin="round">De Novo AML</text>
<text x="66.30" y="346.40" font-size="5.3" text-anchor="middle" fill="#1a1a1a" font-weight="normal" stroke="#1a1a1a" stroke-width="0.14" stroke-linejoin="round">74</text>
<text x="79.28" y="346.40" font-size="5.3" text-anchor="middle" fill="#1a1a1a" font-weight="normal" stroke="#1a1a1a" stroke-width="0.14" stroke-linejoin="round">64</text>
<text x="92.26" y="346.40" font-size="5.3" text-anchor="middle" fill="#1a1a1a" font-weight="normal" stroke="#1a1a1a" stroke-width="0.14" stroke-linejoin="round">58</text>
<text x="105.24" y="346.40" font-size="5.3" text-anchor="middle" fill="#1a1a1a" font-weight="normal" stroke="#1a1a1a" stroke-width="0.14" stroke-linejoin="round">54</text>
<text x="118.22" y="346.40" font-size="5.3" text-anchor="middle" fill="#1a1a1a" font-weight="normal" stroke="#1a1a1a" stroke-width="0.14" stroke-linejoin="round">49</text>
<text x="131.20" y="346.40" font-size="5.3" text-anchor="middle" fill="#1a1a1a" font-weight="normal" stroke="#1a1a1a" stroke-width="0.14" stroke-linejoin="round">45</text>
<text x="144.18" y="346.40" font-size="5.3" text-anchor="middle" fill="#1a1a1a" font-weight="normal" stroke="#1a1a1a" stroke-width="0.14" stroke-linejoin="round">36</text>
<text x="157.16" y="346.40" font-size="5.3" text-anchor="middle" fill="#1a1a1a" font-weight="normal" stroke="#1a1a1a" stroke-width="0.14" stroke-linejoin="round">32</text>
<text x="170.14" y="346.40" font-size="5.3" text-anchor="middle" fill="#1a1a1a" font-weight="normal" stroke="#1a1a1a" stroke-width="0.14" stroke-linejoin="round">27</text>
<text x="183.12" y="346.40" font-size="5.3" text-anchor="middle" fill="#1a1a1a" font-weight="normal" stroke="#1a1a1a" stroke-width="0.14" stroke-linejoin="round">22</text>
<text x="196.10" y="346.40" font-size="5.3" text-anchor="middle" fill="#1a1a1a" font-weight="normal" stroke="#1a1a1a" stroke-width="0.14" stroke-linejoin="round">17</text>
<text x="209.08" y="346.40" font-size="5.3" text-anchor="middle" fill="#1a1a1a" font-weight="normal" stroke="#1a1a1a" stroke-width="0.14" stroke-linejoin="round">17</text>
<text x="222.06" y="346.40" font-size="5.3" text-anchor="middle" fill="#1a1a1a" font-weight="normal" stroke="#1a1a1a" stroke-width="0.14" stroke-linejoin="round">12</text>
<text x="235.04" y="346.40" font-size="5.3" text-anchor="middle" fill="#1a1a1a" font-weight="normal" stroke="#1a1a1a" stroke-width="0.14" stroke-linejoin="round">11</text>
<text x="248.02" y="346.40" font-size="5.3" text-anchor="middle" fill="#1a1a1a" font-weight="normal" stroke="#1a1a1a" stroke-width="0.14" stroke-linejoin="round">9</text>
<text x="261.00" y="346.40" font-size="5.3" text-anchor="middle" fill="#1a1a1a" font-weight="normal" stroke="#1a1a1a" stroke-width="0.14" stroke-linejoin="round">8</text>
<text x="273.98" y="346.40" font-size="5.3" text-anchor="middle" fill="#1a1a1a" font-weight="normal" stroke="#1a1a1a" stroke-width="0.14" stroke-linejoin="round">8</text>
<text x="286.96" y="346.40" font-size="5.3" text-anchor="middle" fill="#1a1a1a" font-weight="normal" stroke="#1a1a1a" stroke-width="0.14" stroke-linejoin="round">7</text>
<text x="299.94" y="346.40" font-size="5.3" text-anchor="middle" fill="#1a1a1a" font-weight="normal" stroke="#1a1a1a" stroke-width="0.14" stroke-linejoin="round">5</text>
<text x="6.20" y="355.40" font-size="4.9" text-anchor="start" fill="#1a1a1a" font-weight="normal" textLength="45.5" lengthAdjust="spacingAndGlyphs" stroke="#1a1a1a" stroke-width="0.14" stroke-linejoin="round">Therapy related AML</text>
<text x="66.30" y="355.40" font-size="5.3" text-anchor="middle" fill="#1a1a1a" font-weight="normal" stroke="#1a1a1a" stroke-width="0.14" stroke-linejoin="round">24</text>
<text x="79.28" y="355.40" font-size="5.3" text-anchor="middle" fill="#1a1a1a" font-weight="normal" stroke="#1a1a1a" stroke-width="0.14" stroke-linejoin="round">23</text>
<text x="92.26" y="355.40" font-size="5.3" text-anchor="middle" fill="#1a1a1a" font-weight="normal" stroke="#1a1a1a" stroke-width="0.14" stroke-linejoin="round">18</text>
<text x="105.24" y="355.40" font-size="5.3" text-anchor="middle" fill="#1a1a1a" font-weight="normal" stroke="#1a1a1a" stroke-width="0.14" stroke-linejoin="round">17</text>
<text x="118.22" y="355.40" font-size="5.3" text-anchor="middle" fill="#1a1a1a" font-weight="normal" stroke="#1a1a1a" stroke-width="0.14" stroke-linejoin="round">17</text>
<text x="131.20" y="355.40" font-size="5.3" text-anchor="middle" fill="#1a1a1a" font-weight="normal" stroke="#1a1a1a" stroke-width="0.14" stroke-linejoin="round">16</text>
<text x="144.18" y="355.40" font-size="5.3" text-anchor="middle" fill="#1a1a1a" font-weight="normal" stroke="#1a1a1a" stroke-width="0.14" stroke-linejoin="round">15</text>
<text x="157.16" y="355.40" font-size="5.3" text-anchor="middle" fill="#1a1a1a" font-weight="normal" stroke="#1a1a1a" stroke-width="0.14" stroke-linejoin="round">13</text>
<text x="170.14" y="355.40" font-size="5.3" text-anchor="middle" fill="#1a1a1a" font-weight="normal" stroke="#1a1a1a" stroke-width="0.14" stroke-linejoin="round">12</text>
<text x="183.12" y="355.40" font-size="5.3" text-anchor="middle" fill="#1a1a1a" font-weight="normal" stroke="#1a1a1a" stroke-width="0.14" stroke-linejoin="round">12</text>
<text x="196.10" y="355.40" font-size="5.3" text-anchor="middle" fill="#1a1a1a" font-weight="normal" stroke="#1a1a1a" stroke-width="0.14" stroke-linejoin="round">11</text>
<text x="209.08" y="355.40" font-size="5.3" text-anchor="middle" fill="#1a1a1a" font-weight="normal" stroke="#1a1a1a" stroke-width="0.14" stroke-linejoin="round">11</text>
<text x="222.06" y="355.40" font-size="5.3" text-anchor="middle" fill="#1a1a1a" font-weight="normal" stroke="#1a1a1a" stroke-width="0.14" stroke-linejoin="round">7</text>
<text x="235.04" y="355.40" font-size="5.3" text-anchor="middle" fill="#1a1a1a" font-weight="normal" stroke="#1a1a1a" stroke-width="0.14" stroke-linejoin="round">6</text>
<text x="248.02" y="355.40" font-size="5.3" text-anchor="middle" fill="#1a1a1a" font-weight="normal" stroke="#1a1a1a" stroke-width="0.14" stroke-linejoin="round">4</text>
<text x="261.00" y="355.40" font-size="5.3" text-anchor="middle" fill="#1a1a1a" font-weight="normal" stroke="#1a1a1a" stroke-width="0.14" stroke-linejoin="round">4</text>
<text x="273.98" y="355.40" font-size="5.3" text-anchor="middle" fill="#1a1a1a" font-weight="normal" stroke="#1a1a1a" stroke-width="0.14" stroke-linejoin="round">4</text>
<text x="286.96" y="355.40" font-size="5.3" text-anchor="middle" fill="#1a1a1a" font-weight="normal" stroke="#1a1a1a" stroke-width="0.14" stroke-linejoin="round">3</text>
<text x="299.94" y="355.40" font-size="5.3" text-anchor="middle" fill="#1a1a1a" font-weight="normal" stroke="#1a1a1a" stroke-width="0.14" stroke-linejoin="round">3</text>
<text x="320.10" y="14.60" font-size="11.2" text-anchor="start" fill="#111" font-weight="bold" stroke="#111" stroke-width="0.22" stroke-linejoin="round">B</text>
<text x="360.00" y="34.40" font-size="5.6" text-anchor="end" fill="#3c3c3c" font-weight="normal" stroke="#3c3c3c" stroke-width="0.06">100</text>
<text x="360.00" y="54.40" font-size="5.6" text-anchor="end" fill="#3c3c3c" font-weight="normal" stroke="#3c3c3c" stroke-width="0.06">80</text>
<text x="360.00" y="74.40" font-size="5.6" text-anchor="end" fill="#3c3c3c" font-weight="normal" stroke="#3c3c3c" stroke-width="0.06">60</text>
<text x="360.00" y="94.40" font-size="5.6" text-anchor="end" fill="#3c3c3c" font-weight="normal" stroke="#3c3c3c" stroke-width="0.06">40</text>
<text x="360.00" y="114.40" font-size="5.6" text-anchor="end" fill="#3c3c3c" font-weight="normal" stroke="#3c3c3c" stroke-width="0.06">20</text>
<text x="360.00" y="134.40" font-size="5.6" text-anchor="end" fill="#3c3c3c" font-weight="normal" stroke="#3c3c3c" stroke-width="0.06">0</text>
<text transform="translate(344.8,79.4) rotate(-90)" font-size="7.6" font-weight="bold" text-anchor="middle" fill="#2e2e2e" stroke="#2e2e2e" stroke-width="0.1" textLength="88.5" lengthAdjust="spacingAndGlyphs">Percentages of patients (N = 207)</text>
<text x="384.90" y="109.53" font-size="6.1" text-anchor="middle" fill="#ffffff" font-weight="normal" stroke="#ffffff" stroke-width="0.15" stroke-linejoin="round">50</text>
<text x="384.90" y="74.90" font-size="6.1" text-anchor="middle" fill="#ffffff" font-weight="normal" stroke="#ffffff" stroke-width="0.15" stroke-linejoin="round">19.6</text>
<text x="384.90" y="140.90" font-size="5.1" text-anchor="middle" fill="#1a1a1a" font-weight="normal" stroke="#1a1a1a" stroke-width="0.14" stroke-linejoin="round">De Novo</text>
<text x="384.90" y="147.20" font-size="5.1" text-anchor="middle" fill="#1a1a1a" font-weight="normal" stroke="#1a1a1a" stroke-width="0.14" stroke-linejoin="round">AML</text>
<text x="384.90" y="153.50" font-size="5.1" text-anchor="middle" fill="#1a1a1a" font-weight="normal" stroke="#1a1a1a" stroke-width="0.14" stroke-linejoin="round">(n = 92)</text>
<text x="421.70" y="112.61" font-size="6.1" text-anchor="middle" fill="#ffffff" font-weight="normal" stroke="#ffffff" stroke-width="0.15" stroke-linejoin="round">43.8</text>
<text x="421.70" y="78.38" font-size="6.1" text-anchor="middle" fill="#ffffff" font-weight="normal" stroke="#ffffff" stroke-width="0.15" stroke-linejoin="round">25</text>
<text x="421.70" y="140.90" font-size="5.1" text-anchor="middle" fill="#1a1a1a" font-weight="normal" stroke="#1a1a1a" stroke-width="0.14" stroke-linejoin="round">Therapy</text>
<text x="421.70" y="147.20" font-size="5.1" text-anchor="middle" fill="#1a1a1a" font-weight="normal" stroke="#1a1a1a" stroke-width="0.14" stroke-linejoin="round">related AML</text>
<text x="421.70" y="153.50" font-size="5.1" text-anchor="middle" fill="#1a1a1a" font-weight="normal" stroke="#1a1a1a" stroke-width="0.14" stroke-linejoin="round">(n = 32)</text>
<text x="458.40" y="112.31" font-size="6.1" text-anchor="middle" fill="#ffffff" font-weight="normal" stroke="#ffffff" stroke-width="0.15" stroke-linejoin="round">44.4</text>
<text x="458.40" y="82.86" font-size="6.1" text-anchor="middle" fill="#ffffff" font-weight="normal" stroke="#ffffff" stroke-width="0.15" stroke-linejoin="round">14.8</text>
<text x="458.40" y="140.90" font-size="5.1" text-anchor="middle" fill="#1a1a1a" font-weight="normal" stroke="#1a1a1a" stroke-width="0.14" stroke-linejoin="round">AML arising</text>
<text x="458.40" y="147.20" font-size="5.1" text-anchor="middle" fill="#1a1a1a" font-weight="normal" stroke="#1a1a1a" stroke-width="0.14" stroke-linejoin="round">from MPN</text>
<text x="458.40" y="153.50" font-size="5.1" text-anchor="middle" fill="#1a1a1a" font-weight="normal" stroke="#1a1a1a" stroke-width="0.14" stroke-linejoin="round">(n = 27)</text>
<text x="495.20" y="117.19" font-size="6.1" text-anchor="middle" fill="#ffffff" font-weight="normal" stroke="#ffffff" stroke-width="0.15" stroke-linejoin="round">34.6</text>
<text x="495.20" y="88.48" font-size="6.1" text-anchor="middle" fill="#ffffff" font-weight="normal" stroke="#ffffff" stroke-width="0.15" stroke-linejoin="round">23.1</text>
<text x="495.20" y="140.90" font-size="5.1" text-anchor="middle" fill="#1a1a1a" font-weight="normal" stroke="#1a1a1a" stroke-width="0.14" stroke-linejoin="round">AML arising</text>
<text x="495.20" y="147.20" font-size="5.1" text-anchor="middle" fill="#1a1a1a" font-weight="normal" stroke="#1a1a1a" stroke-width="0.14" stroke-linejoin="round">from MDS</text>
<text x="495.20" y="153.50" font-size="5.1" text-anchor="middle" fill="#1a1a1a" font-weight="normal" stroke="#1a1a1a" stroke-width="0.14" stroke-linejoin="round">(n = 52)</text>
<text x="386.30" y="45.10" font-size="6.2" text-anchor="start" fill="#1a1a1a" font-weight="normal" stroke="#1a1a1a" stroke-width="0.14" stroke-linejoin="round">CR</text>
<text x="407.50" y="45.10" font-size="6.2" text-anchor="start" fill="#1a1a1a" font-weight="normal" stroke="#1a1a1a" stroke-width="0.14" stroke-linejoin="round">CRi</text>
</g>
<rect x="0.5" y="0.5" width="519" height="362" fill="none" stroke="#595959" stroke-width="1"/>
</svg>
</body></html>
